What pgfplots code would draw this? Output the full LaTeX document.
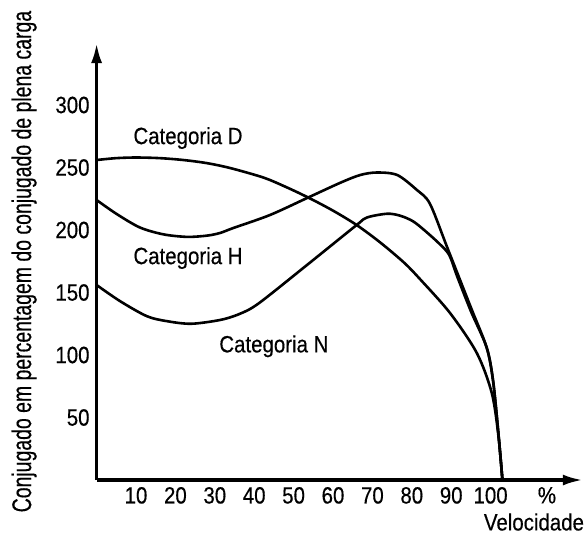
\documentclass[border=0pt]{standalone}
\usepackage{fontspec}
\setmainfont{Liberation Sans}[FakeStretch=0.87,FakeBold=0.4]
\newfontfamily\ylabfont{Liberation Sans}[FakeStretch=0.72,FakeBold=0.4]
\usepackage{pgfplots}
\pgfplotsset{compat=1.18}
\usetikzlibrary{arrows.meta}
\begin{document}
\begin{tikzpicture}
\useasboundingbox (-48.3pt,-29pt) rectangle (245.2pt,240pt);
\begin{axis}[
    x=1.97pt, y=0.625pt,
    xmin=0, xmax=123.4, ymin=0, ymax=349.6,
    axis lines=left,
    axis line style={line width=1.6pt, -{Latex[length=10pt,width=5.5pt]}},
    enlargelimits=false,
    clip=false,
    major tick length=0pt,
    xtick={10,20,30,40,50,60,70,80,90,100,114.3},
    xticklabels={10,20,30,40,50,60,70,80,90,100,\%},
    ytick={50,100,150,200,250,300},
    /pgf/number format/assume math mode=true,
    tick label style={font=\fontsize{11.75}{13}\selectfont},
    xlabel={Velocidade},
    xlabel style={at={(axis cs:111,-33.6)}, anchor=center, font=\fontsize{11.75}{13}\selectfont},
    ylabel={Conjugado em percentagem do conjugado de plena carga},
    ylabel style={at={(axis cs:-18.4,174.8)}, anchor=center, font=\ylabfont\fontsize{13.5}{15}\selectfont},
    cycle list={{black}},
    every axis plot post/.append style={black, line width=1.3pt, smooth, no marks},
]
% Categoria D
\addplot coordinates {(0,256) (5,257.5) (10,258) (16,257.5) (22,256) (28,253.5) (34,249.5)
  (42.3,242) (48,234.5) (53.7,226) (60,215.5) (66,204) (72,190) (78,174) (82,161)
  (89.7,133.6) (96.5,101.6) (100.3,69.6) (102,35) (103,0)};
% Categoria H
\addplot coordinates {(0,224) (5,213) (11,202) (17,196.5) (23,194.5) (28,195.5) (31.3,197.6)
  (34.7,201.6) (44,212) (53.7,226) (62,238) (66.9,244) (71.1,246) (76.3,244) (81.3,232)
  (84.6,221) (89,186) (95,138) (99,106) (100.6,80) (101.9,40) (103,0)};
% Categoria N
\addplot coordinates {(0,156) (6,143) (12.8,131) (18,127) (24,125) (31.3,128) (36,132.5)
  (41,141) (53,171) (66,204) (68.6,210) (73.7,213) (77,211.5) (80.3,207) (83.5,199)
  (87,189) (89.5,180) (91.5,163) (95,135) (99,106) (100.6,80) (101.9,40) (103,0)};
\node[font=\fontsize{11.75}{13}\selectfont] at (axis cs:23.2,273.6) {Categoria D};
\node[font=\fontsize{11.75}{13}\selectfont] at (axis cs:23.2,177.6) {Categoria H};
\node[font=\fontsize{11.75}{13}\selectfont] at (axis cs:45,107) {Categoria N};
\end{axis}
\end{tikzpicture}
\end{document}
